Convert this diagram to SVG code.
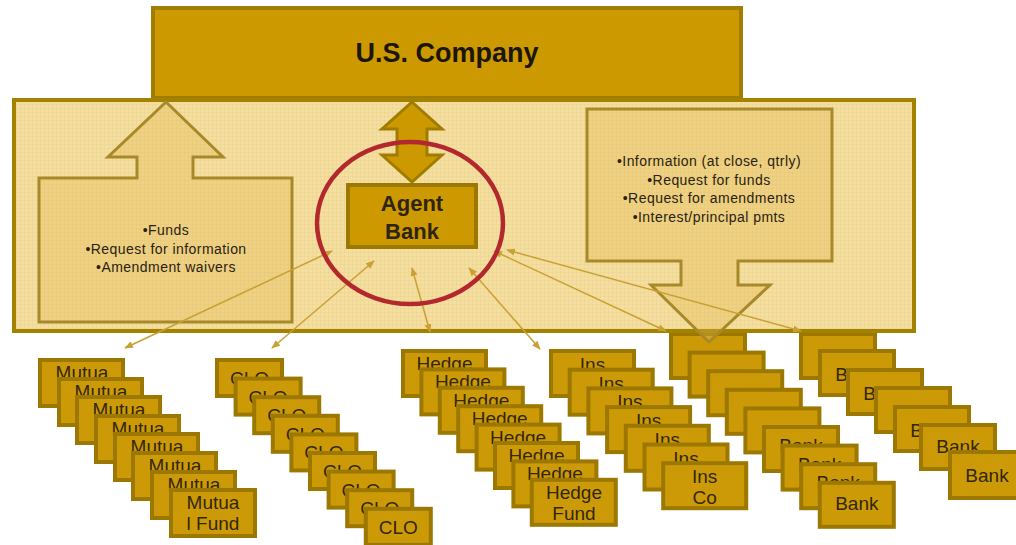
<svg xmlns="http://www.w3.org/2000/svg" width="1016" height="545" viewBox="0 0 1016 545">
<defs>
<pattern id="grid" patternUnits="userSpaceOnUse" width="4" height="4">
<rect width="4" height="4" fill="#f5dfa0"/>
<path d="M4 0H0V4" fill="none" stroke="#e8cc82" stroke-width="0.7"/>
</pattern>
<marker id="ah" viewBox="0 0 10 8" refX="9" refY="4" markerWidth="9" markerHeight="7" markerUnits="userSpaceOnUse" orient="auto-start-reverse">
<path d="M0 0L10 4L0 8Z" fill="#c9a033"/>
</marker>
<style>
.bx{fill:#cc9a06;stroke:#9c7800;stroke-width:4}
.st{font-family:"Liberation Sans",Arial,sans-serif;font-size:19px;fill:#33270a;text-anchor:middle}
.info{font-family:"Liberation Sans",Arial,sans-serif;font-size:14px;letter-spacing:0.45px;fill:#2a2210;text-anchor:middle}
.arr{fill:#e2b84c;fill-opacity:0.35;stroke:#a8892a;stroke-width:3}
.con{stroke:#c9a033;stroke-width:1.5;fill:none;marker-start:url(#ah);marker-end:url(#ah)}
</style>
</defs>
<rect width="1016" height="545" fill="#ffffff"/>

<g id="stack-mutual">
<g><rect class="bx" x="40" y="360" width="83" height="46"/><text class="st" x="82" y="379">Mutua</text></g>
<g><rect class="bx" x="59" y="379" width="83" height="46"/><text class="st" x="101" y="398">Mutua</text></g>
<g><rect class="bx" x="77" y="397" width="83" height="46"/><text class="st" x="119" y="416">Mutua</text></g>
<g><rect class="bx" x="96" y="416" width="83" height="46"/><text class="st" x="138" y="435">Mutua</text></g>
<g><rect class="bx" x="115" y="434" width="83" height="46"/><text class="st" x="157" y="453">Mutua</text></g>
<g><rect class="bx" x="133" y="453" width="83" height="46"/><text class="st" x="175" y="472">Mutua</text></g>
<g><rect class="bx" x="152" y="472" width="83" height="46"/><text class="st" x="194" y="491">Mutua</text></g>
<g id="mutual-fund"><rect class="bx" x="171" y="490" width="84" height="46"/><text class="st" x="213" y="509">Mutua</text><text class="st" x="213" y="530">l Fund</text></g>
</g>

<g id="stack-clo">
<g><rect class="bx" x="217" y="360" width="65" height="36"/><text class="st" x="249.5" y="385">CLO</text></g>
<g><rect class="bx" x="235.6" y="378.6" width="65" height="36"/><text class="st" x="268.1" y="403.6">CLO</text></g>
<g><rect class="bx" x="254.2" y="397.2" width="65" height="36"/><text class="st" x="286.7" y="422.2">CLO</text></g>
<g><rect class="bx" x="272.8" y="415.8" width="65" height="36"/><text class="st" x="305.3" y="440.8">CLO</text></g>
<g><rect class="bx" x="291.4" y="434.4" width="65" height="36"/><text class="st" x="323.9" y="459.4">CLO</text></g>
<g><rect class="bx" x="310" y="453" width="65" height="36"/><text class="st" x="342.5" y="478">CLO</text></g>
<g><rect class="bx" x="328.6" y="471.6" width="65" height="36"/><text class="st" x="361.1" y="496.6">CLO</text></g>
<g><rect class="bx" x="347.2" y="490.2" width="65" height="36"/><text class="st" x="379.7" y="515.2">CLO</text></g>
<g id="clo"><rect class="bx" x="365.8" y="508.8" width="65" height="36"/><text class="st" x="398.3" y="533.8">CLO</text></g>
</g>

<g id="stack-hedge">
<g><rect class="bx" x="403" y="351" width="83" height="45"/><text class="st" x="444.5" y="370">Hedge</text></g>
<g><rect class="bx" x="421.4" y="369.4" width="83" height="45"/><text class="st" x="462.9" y="388.4">Hedge</text></g>
<g><rect class="bx" x="439.8" y="387.8" width="83" height="45"/><text class="st" x="481.3" y="406.8">Hedge</text></g>
<g><rect class="bx" x="458.2" y="406.2" width="83" height="45"/><text class="st" x="499.7" y="425.2">Hedge</text></g>
<g><rect class="bx" x="476.6" y="424.6" width="83" height="45"/><text class="st" x="518.1" y="443.6">Hedge</text></g>
<g><rect class="bx" x="495" y="443" width="83" height="45"/><text class="st" x="536.5" y="462">Hedge</text></g>
<g><rect class="bx" x="513.4" y="461.4" width="83" height="45"/><text class="st" x="554.9" y="480.4">Hedge</text></g>
<g id="hedge-fund"><rect class="bx" x="531.8" y="479.8" width="84" height="45"/><text class="st" x="574" y="498.8">Hedge</text><text class="st" x="574" y="519.8">Fund</text></g>
</g>

<g id="stack-ins">
<g><rect class="bx" x="551" y="351" width="83" height="45"/><text class="st" x="592.5" y="371">Ins</text></g>
<g><rect class="bx" x="569.7" y="369.7" width="83" height="45"/><text class="st" x="611.2" y="389.7">Ins</text></g>
<g><rect class="bx" x="588.4" y="388.4" width="83" height="45"/><text class="st" x="629.9" y="408.4">Ins</text></g>
<g><rect class="bx" x="607.1" y="407.1" width="83" height="45"/><text class="st" x="648.6" y="427.1">Ins</text></g>
<g><rect class="bx" x="625.8" y="425.8" width="83" height="45"/><text class="st" x="667.3" y="445.8">Ins</text></g>
<g><rect class="bx" x="644.5" y="444.5" width="83" height="45"/><text class="st" x="686" y="464.5">Ins</text></g>
<g id="ins-co"><rect class="bx" x="663.2" y="463.2" width="83" height="45"/><text class="st" x="704.7" y="483.2">Ins</text><text class="st" x="704.7" y="504.2">Co</text></g>
</g>

<g id="stack-bank-a">
<rect class="bx" x="671" y="334" width="74" height="44"/>
<rect class="bx" x="689.6" y="352.6" width="74" height="44"/>
<rect class="bx" x="708.2" y="371.2" width="74" height="44"/>
<rect class="bx" x="726.8" y="389.8" width="74" height="44"/>
<rect class="bx" x="745.4" y="408.4" width="74" height="44"/>
<g><rect class="bx" x="764" y="427" width="74" height="44"/><text class="st" x="801" y="452">Bank</text></g>
<g><rect class="bx" x="782.6" y="445.6" width="74" height="44"/><text class="st" x="819.6" y="470.6">Bank</text></g>
<g><rect class="bx" x="801.2" y="464.2" width="74" height="44"/><text class="st" x="838.2" y="489.2">Bank</text></g>
<g id="bank-a"><rect class="bx" x="819.8" y="482.8" width="74" height="44"/><text class="st" x="856.8" y="510">Bank</text></g>
</g>

<g id="stack-bank-b">
<rect class="bx" x="801" y="334" width="74" height="44"/>
<g><rect class="bx" x="820" y="351" width="74" height="44"/><text class="st" x="857" y="381">Bank</text></g>
<g><rect class="bx" x="848" y="370" width="74" height="44"/><text class="st" x="885" y="400">Bank</text></g>
<rect class="bx" x="876" y="388" width="74" height="44"/>
<g><rect class="bx" x="895" y="407" width="74" height="44"/><text class="st" x="932" y="437">Bank</text></g>
<g><rect class="bx" x="921" y="425" width="74" height="44"/><text class="st" x="958" y="453">Bank</text></g>
<g id="bank-b"><rect class="bx" x="950" y="452" width="76" height="46"/><text class="st" x="987" y="482">Bank</text></g>
</g>

<g id="us-company">
<rect x="153" y="8" width="588" height="90" fill="#cc9900" stroke="#a07c00" stroke-width="4"/>
<text x="447" y="62" font-family="Liberation Sans, Arial, sans-serif" font-size="27" font-weight="bold" fill="#1c1608" text-anchor="middle">U.S. Company</text>
</g>

<g id="panel">
<rect x="14" y="100" width="900" height="231" fill="url(#grid)" stroke="#a38200" stroke-width="4"/>
</g>

<g id="left-flow">
<polygon class="arr" points="166,102 223,157 193,157 193,178 292,178 292,322 39,322 39,178 137,178 137,157 108,157"/>
<text class="info" x="166" y="235">•Funds</text>
<text class="info" x="166" y="254">•Request for information</text>
<text class="info" x="166" y="272">•Amendment waivers</text>
</g>

<g id="right-flow">
<polygon class="arr" points="587,109 832,109 832,261 738,261 738,285 770,285 709,342 651,285 681,285 681,261 587,261"/>
<text class="info" x="709" y="166">•Information (at close, qtrly)</text>
<text class="info" x="709" y="185">•Request for funds</text>
<text class="info" x="709" y="203">•Request for amendments</text>
<text class="info" x="709" y="222">•Interest/principal pmts</text>
</g>

<g id="double-arrow">
<polygon points="412,102 442,129 427,129 427,155 442,155 412,182 382,155 397,155 397,129 382,129" fill="#cc9900" stroke="#a07c00" stroke-width="3"/>
</g>

<g id="agent-bank">
<rect x="348" y="185" width="128" height="62" fill="#cc9900" stroke="#9c7800" stroke-width="4"/>
<text x="412" y="211" font-family="Liberation Sans, Arial, sans-serif" font-size="22" font-weight="bold" fill="#2e2410" text-anchor="middle">Agent</text>
<text x="412" y="239" font-family="Liberation Sans, Arial, sans-serif" font-size="22" font-weight="bold" fill="#2e2410" text-anchor="middle">Bank</text>
</g>

<g id="connectors">
<line class="con" x1="332" y1="251" x2="125" y2="348"/>
<line class="con" x1="374" y1="261" x2="272" y2="348"/>
<line class="con" x1="412" y1="268" x2="430" y2="332"/>
<line class="con" x1="469" y1="268" x2="540" y2="349"/>
<line class="con" x1="507" y1="250" x2="801" y2="331"/>
<line class="con" x1="494" y1="251" x2="666" y2="331"/>
</g>

<g id="highlight">
<ellipse cx="410" cy="223" rx="93" ry="81" fill="none" stroke="#b3282d" stroke-width="4.5"/>
</g>
</svg>
